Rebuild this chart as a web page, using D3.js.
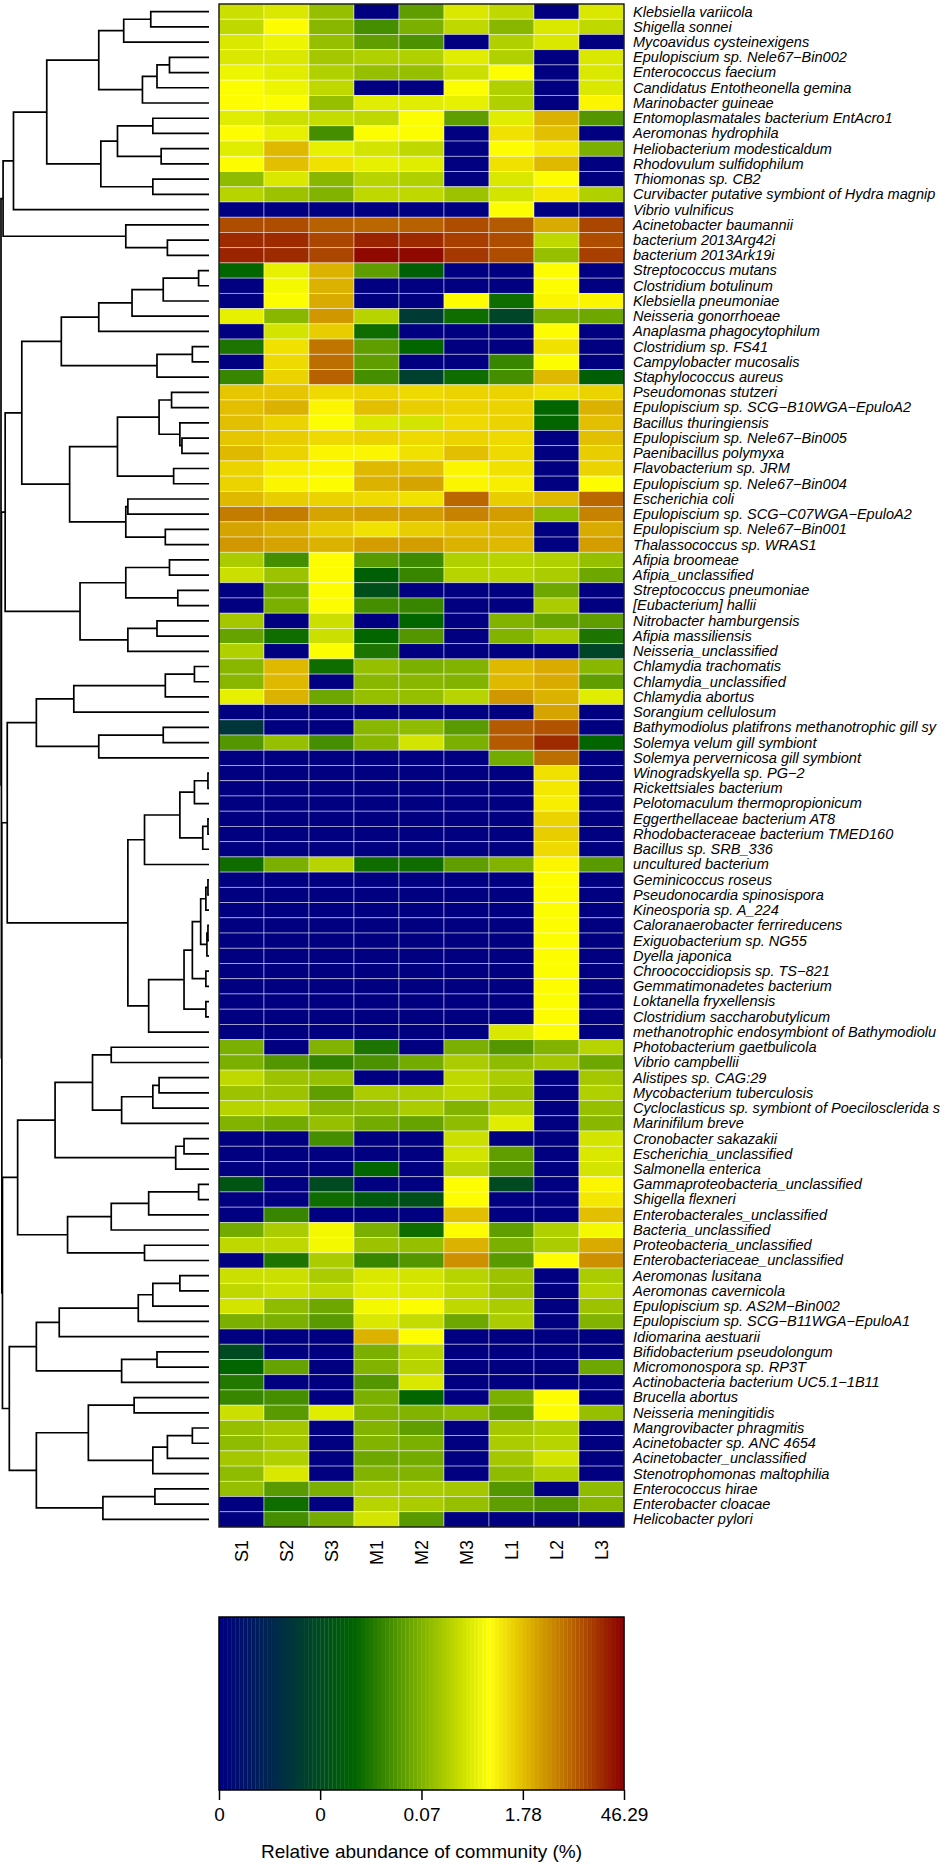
<!DOCTYPE html>
<html>
<head>
<meta charset="utf-8">
<script src="https://cdn.jsdelivr.net/npm/d3@7"></script>
<style>
  body { margin: 0; background: #fff; }
  text { font-family: "Liberation Sans", Arial, Helvetica, sans-serif; fill: #000; }
</style>
</head>
<body>
<svg id="chart"></svg>
<script>
var samples = ["S1", "S2", "S3", "M1", "M2", "M3", "L1", "L2", "L3"];

var taxa = [
  "Klebsiella variicola", "Shigella sonnei", "Mycoavidus cysteinexigens", "Epulopiscium sp. Nele67\u2212Bin002",
  "Enterococcus faecium", "Candidatus Entotheonella gemina", "Marinobacter guineae", "Entomoplasmatales bacterium EntAcro1",
  "Aeromonas hydrophila", "Heliobacterium modesticaldum", "Rhodovulum sulfidophilum", "Thiomonas sp. CB2",
  "Curvibacter putative symbiont of Hydra magnip", "Vibrio vulnificus", "Acinetobacter baumannii", "bacterium 2013Arg42i",
  "bacterium 2013Ark19i", "Streptococcus mutans", "Clostridium botulinum", "Klebsiella pneumoniae",
  "Neisseria gonorrhoeae", "Anaplasma phagocytophilum", "Clostridium sp. FS41", "Campylobacter mucosalis",
  "Staphylococcus aureus", "Pseudomonas stutzeri", "Epulopiscium sp. SCG\u2212B10WGA\u2212EpuloA2", "Bacillus thuringiensis",
  "Epulopiscium sp. Nele67\u2212Bin005", "Paenibacillus polymyxa", "Flavobacterium sp. JRM", "Epulopiscium sp. Nele67\u2212Bin004",
  "Escherichia coli", "Epulopiscium sp. SCG\u2212C07WGA\u2212EpuloA2", "Epulopiscium sp. Nele67\u2212Bin001", "Thalassococcus sp. WRAS1",
  "Afipia broomeae", "Afipia_unclassified", "Streptococcus pneumoniae", "[Eubacterium] hallii",
  "Nitrobacter hamburgensis", "Afipia massiliensis", "Neisseria_unclassified", "Chlamydia trachomatis",
  "Chlamydia_unclassified", "Chlamydia abortus", "Sorangium cellulosum", "Bathymodiolus platifrons methanotrophic gill sy",
  "Solemya velum gill symbiont", "Solemya pervernicosa gill symbiont", "Winogradskyella sp. PG\u22122", "Rickettsiales bacterium",
  "Pelotomaculum thermopropionicum", "Eggerthellaceae bacterium AT8", "Rhodobacteraceae bacterium TMED160", "Bacillus sp. SRB_336",
  "uncultured bacterium", "Geminicoccus roseus", "Pseudonocardia spinosispora", "Kineosporia sp. A_224",
  "Caloranaerobacter ferrireducens", "Exiguobacterium sp. NG55", "Dyella japonica", "Chroococcidiopsis sp. TS\u2212821",
  "Gemmatimonadetes bacterium", "Loktanella fryxellensis", "Clostridium saccharobutylicum", "methanotrophic endosymbiont of Bathymodiolu",
  "Photobacterium gaetbulicola", "Vibrio campbellii", "Alistipes sp. CAG:29", "Mycobacterium tuberculosis",
  "Cycloclasticus sp. symbiont of Poecilosclerida s", "Marinifilum breve", "Cronobacter sakazakii", "Escherichia_unclassified",
  "Salmonella enterica", "Gammaproteobacteria_unclassified", "Shigella flexneri", "Enterobacterales_unclassified",
  "Bacteria_unclassified", "Proteobacteria_unclassified", "Enterobacteriaceae_unclassified", "Aeromonas lusitana",
  "Aeromonas cavernicola", "Epulopiscium sp. AS2M\u2212Bin002", "Epulopiscium sp. SCG\u2212B11WGA\u2212EpuloA1", "Idiomarina aestuarii",
  "Bifidobacterium pseudolongum", "Micromonospora sp. RP3T", "Actinobacteria bacterium UC5.1\u22121B11", "Brucella abortus",
  "Neisseria meningitidis", "Mangrovibacter phragmitis", "Acinetobacter sp. ANC 4654", "Acinetobacter_unclassified",
  "Stenotrophomonas maltophilia", "Enterococcus hirae", "Enterobacter cloacae", "Helicobacter pylori"
];

// log10 of relative abundance (%), one row per taxon, columns follow samples; -4 = not detected
var logAbund = [
  [-0.6, -0.5, -1.0, -4, -1.4, -0.5, -0.7, -4, -0.5],
  [-0.7, -0.2, -1.1, -1.6, -1.2, -0.7, -1.1, -0.5, -0.7],
  [-0.5, -0.35, -1.0, -1.4, -1.55, -4, -0.8, -0.5, -4],
  [-0.5, -0.5, -0.9, -0.8, -0.8, -0.45, -0.8, -4, -0.5],
  [-0.35, -0.45, -0.8, -1.0, -1.0, -0.6, -0.25, -4, -0.5],
  [-0.25, -0.35, -0.7, -4, -4, -0.25, -0.8, -4, -0.5],
  [-0.2, -0.25, -1.0, -0.45, -0.45, -0.4, -0.8, -4, -0.15],
  [-0.45, -0.6, -0.65, -0.7, -0.25, -1.4, -0.45, 0.35, -1.5],
  [-0.2, -0.4, -1.6, -0.25, -0.25, -4, 0.0, 0.25, -4],
  [-0.45, 0.3, -0.4, -0.55, -0.7, -4, -0.2, -0.05, -1.2],
  [-0.2, 0.25, 0.0, -0.4, -0.45, -4, 0.0, 0.3, -4],
  [-1.05, -0.5, -1.1, -0.75, -0.8, -4, -0.5, -0.2, -4],
  [-0.75, -0.95, -1.15, -0.7, -0.7, -0.95, -0.55, -0.05, -0.8],
  [-4, -4, -4, -4, -4, -4, -0.25, -4, -4],
  [1.1, 1.1, 0.95, 0.9, 0.95, 1.1, 1.0, 0.4, 1.15],
  [1.35, 1.35, 1.15, 1.4, 1.35, 1.2, 1.1, -0.7, 1.1],
  [1.4, 1.35, 1.15, 1.6, 1.6, 1.25, 1.1, -1.0, 1.2],
  [-2.1, -0.4, 0.35, -1.4, -2.2, -4, -4, -0.2, -4],
  [-4, -0.3, 0.35, -4, -4, -4, -4, -0.2, -4],
  [-4, -0.25, 0.4, -4, -4, -0.2, -2.0, -0.15, -0.15],
  [-0.4, -1.1, 0.55, -0.75, -2.9, -2.0, -2.7, -1.2, -1.3],
  [-4, -0.55, 0.15, -2.0, -4, -4, -4, -0.2, -4],
  [-1.9, 0.0, 0.8, -1.4, -2.1, -4, -4, 0.0, -4],
  [-4, 0.05, 0.85, -1.4, -4, -4, -1.7, -0.25, -4],
  [-1.7, 0.1, 0.95, -1.6, -2.8, -2.0, -1.6, 0.3, -2.2],
  [0.2, 0.2, 0.05, 0.1, 0.05, 0.1, 0.1, 0.0, 0.1],
  [0.25, 0.35, -0.15, 0.25, 0.15, 0.1, 0.1, -2.1, 0.35],
  [0.25, 0.1, -0.25, -0.5, -0.55, 0.05, 0.1, -2.1, 0.25],
  [0.2, 0.15, 0.05, 0.1, 0.05, 0.1, 0.05, -4, 0.25],
  [0.3, 0.1, -0.15, -0.15, 0.0, 0.25, 0.05, -4, 0.15],
  [0.1, -0.1, -0.15, 0.3, 0.25, -0.15, 0.0, -4, 0.1],
  [0.1, -0.15, -0.2, 0.35, 0.45, -0.15, -0.1, -4, -0.2],
  [0.3, 0.15, 0.1, 0.05, 0.0, 0.9, 0.15, 0.3, 0.9],
  [0.75, 0.75, 0.45, 0.5, 0.5, 0.7, 0.5, -1.05, 0.7],
  [0.45, 0.35, 0.15, 0.0, 0.15, 0.25, 0.3, -4, 0.4],
  [0.55, 0.45, 0.35, 0.5, 0.5, 0.35, 0.3, -4, 0.5],
  [-0.85, -1.6, -0.2, -1.45, -1.65, -0.8, -0.75, -0.8, -1.0],
  [-0.6, -0.95, -0.2, -2.2, -1.7, -0.75, -0.75, -0.85, -1.3],
  [-4, -1.3, -0.2, -2.5, -4, -4, -4, -1.3, -4],
  [-4, -1.2, -0.2, -1.6, -1.7, -4, -4, -0.85, -4],
  [-0.9, -4, -0.6, -4, -2.1, -4, -1.15, -1.35, -1.4],
  [-1.35, -2.0, -0.6, -2.1, -1.5, -4, -1.15, -0.85, -1.9],
  [-0.8, -4, -0.25, -1.9, -4, -4, -4, -4, -2.7],
  [-1.1, 0.3, -2.0, -1.0, -1.2, -1.15, 0.3, 0.4, -1.1],
  [-1.1, 0.3, -4, -1.1, -1.1, -1.15, 0.3, 0.4, -1.4],
  [-0.4, 0.35, -1.3, -1.0, -1.0, -0.75, 0.55, 0.35, -0.45],
  [-4, -4, -4, -4, -4, -4, -4, 0.45, -4],
  [-3.0, -4, -4, -1.1, -1.05, -1.45, 1.0, 1.05, -4],
  [-1.5, -1.0, -1.6, -1.1, -0.55, -1.2, 1.0, 1.35, -2.1],
  [-4, -4, -4, -4, -4, -4, -1.25, 0.85, -4],
  [-4, -4, -4, -4, -4, -4, -4, 0.0, -4],
  [-4, -4, -4, -4, -4, -4, -4, -0.05, -4],
  [-4, -4, -4, -4, -4, -4, -4, -0.1, -4],
  [-4, -4, -4, -4, -4, -4, -4, 0.1, -4],
  [-4, -4, -4, -4, -4, -4, -4, 0.15, -4],
  [-4, -4, -4, -4, -4, -4, -4, 0.05, -4],
  [-2.0, -1.2, -0.75, -2.0, -2.0, -1.4, -1.15, -0.15, -1.45],
  [-4, -4, -4, -4, -4, -4, -4, -0.2, -4],
  [-4, -4, -4, -4, -4, -4, -4, -0.2, -4],
  [-4, -4, -4, -4, -4, -4, -4, -0.25, -4],
  [-4, -4, -4, -4, -4, -4, -4, -0.2, -4],
  [-4, -4, -4, -4, -4, -4, -4, -0.25, -4],
  [-4, -4, -4, -4, -4, -4, -4, -0.2, -4],
  [-4, -4, -4, -4, -4, -4, -4, -0.25, -4],
  [-4, -4, -4, -4, -4, -4, -4, -0.2, -4],
  [-4, -4, -4, -4, -4, -4, -4, -0.25, -4],
  [-4, -4, -4, -4, -4, -4, -4, -0.2, -4],
  [-4, -4, -4, -4, -4, -4, -0.5, -0.2, -4],
  [-1.2, -4, -1.15, -1.9, -4, -1.2, -1.5, -1.15, -0.75],
  [-1.2, -1.5, -1.75, -1.55, -1.25, -0.85, -1.05, -0.9, -1.3],
  [-0.7, -0.95, -1.0, -4, -4, -0.7, -0.85, -4, -0.9],
  [-0.95, -0.95, -1.4, -0.85, -0.85, -0.7, -0.95, -4, -0.8],
  [-0.75, -0.75, -1.1, -1.05, -0.85, -1.15, -0.8, -4, -1.0],
  [-1.15, -1.25, -1.0, -1.25, -1.35, -1.05, -0.45, -4, -1.1],
  [-4, -4, -1.6, -4, -4, -0.6, -4, -4, -0.55],
  [-4, -4, -4, -4, -4, -0.55, -1.4, -4, -0.5],
  [-4, -4, -4, -2.1, -4, -0.75, -1.5, -4, -0.55],
  [-2.4, -4, -2.6, -4, -4, -0.2, -2.6, -4, -0.15],
  [-4, -4, -2.0, -2.3, -2.5, -0.2, -4, -4, -0.05],
  [-4, -1.7, -4, -4, -4, 0.25, -4, -4, 0.25],
  [-1.25, -0.85, -0.3, -1.2, -2.0, -0.2, -1.4, -0.8, -0.3],
  [-0.7, -0.7, -0.3, -0.95, -1.0, 0.35, -1.2, -0.85, 0.4],
  [-4, -1.9, -0.85, -1.7, -1.5, 0.6, -1.45, -0.2, 0.6],
  [-0.6, -0.6, -0.85, -0.5, -0.55, -0.75, -0.95, -4, -0.85],
  [-0.7, -0.6, -0.7, -0.45, -0.5, -0.7, -0.95, -4, -0.75],
  [-0.55, -1.05, -1.3, -0.3, -0.25, -0.7, -0.85, -4, -0.95],
  [-1.2, -1.2, -1.45, -0.5, -0.65, -1.3, -0.85, -4, -1.15],
  [-4, -4, -4, 0.35, -0.2, -4, -4, -4, -4],
  [-2.6, -4, -4, -1.2, -0.75, -4, -4, -4, -4],
  [-2.1, -1.35, -4, -1.15, -0.75, -4, -4, -4, -1.3],
  [-1.85, -4, -4, -1.5, -0.5, -4, -4, -4, -4],
  [-1.7, -1.6, -4, -1.2, -2.1, -4, -1.2, -0.2, -4],
  [-0.6, -1.45, -0.45, -1.15, -1.15, -1.05, -1.35, -0.2, -1.0],
  [-1.0, -0.9, -4, -1.15, -1.4, -4, -0.9, -0.8, -4],
  [-1.05, -0.9, -4, -1.15, -1.2, -4, -0.85, -0.75, -4],
  [-0.9, -0.8, -4, -1.3, -1.25, -4, -0.9, -0.55, -4],
  [-1.05, -0.5, -4, -1.15, -1.15, -4, -1.05, -0.8, -4],
  [-1.0, -1.45, -1.2, -0.85, -0.85, -0.9, -1.5, -4, -1.05],
  [-4, -2.0, -4, -0.75, -0.85, -1.0, -1.4, -1.5, -1.1],
  [-4, -1.6, -1.25, -0.55, -1.45, -4, -4, -4, -4]
];

// colour key
var legendTicks = [0.0001, 0.0026, 0.068, 1.78, 46.29];
var legendColors = ["#000080", "#006400", "#ffff00", "#8b0000"];
var legendTitle = "Relative abundance of community (%)";

// row dendrogram: [left, right, height], leaves are row numbers (1-based)
var clusterA = [
  [[[[[1, 2, 0.28], 3, 0.41], [[[4, 5, 0.19], 6, 0.25], 7, 0.32], 0.53],
    [[[8, 9, 0.27], [10, 11, 0.23], 0.44], [12, 13, 0.27], 0.52], 0.78], 14, 0.94],
  [15, [16, 17, 0.20], 0.40], 0.99];
var clusterB = [
  [[[[[[18, 19, 0.05], 20, 0.22], 21, 0.37], 22, 0.53], [[23, 24, 0.08], 25, 0.25], 0.71],
    [[[[26, 27, 0.18], [28, [29, 30, 0.13], 0.14], 0.24], [31, 32, 0.17], 0.44],
     [[33, 34, 0.39], [35, 36, 0.21], 0.40], 0.67], 0.90],
  [[[37, 38, 0.19], [39, 40, 0.15], 0.40], [[41, 42, 0.25], 43, 0.39], 0.62], 0.98];
var clusterC = [
  [[[[44, 45, 0.07], 46, 0.21], 47, 0.65], [[48, 49, 0.22], 50, 0.53], 0.83],
  [[[[[51, 52, 0.005], 53, 0.07], [[54, 55, 0.005], 56, 0.03], 0.14], 57, 0.31],
   [[[[[[58, 59, 0.005], 60, 0.015], [[61, 62, 0.005], 63, 0.01], 0.04], [64, 65, 0.015], 0.08],
      [66, 67, 0.015], 0.12], 68, 0.29], 0.39], 0.97];
var clusterD = [
  [[[69, 70, 0.47], [[[71, 72, 0.24], 73, 0.27], 74, 0.42], 0.56], [[75, 76, 0.12], 77, 0.16], 0.74],
  [[[[78, 79, 0.05], 80, 0.29], 81, 0.47], [82, 83, 0.31], 0.68], 0.92];
var clusterE = [
  [[[[[84, 85, 0.14], 86, 0.27], 87, 0.34], 88, 0.72], [[89, 90, 0.25], 91, 0.42], 0.83],
  [[[92, 93, 0.36], [[[94, 95, 0.08], 96, 0.20], 97, 0.27], 0.58], [[98, 99, 0.26], 100, 0.51], 0.83], 0.96];
var rowTree = [clusterA, [clusterB, [clusterC, [clusterD, clusterE, 0.993], 0.996], 0.998], 1];


var svgWidth = 950, svgHeight = 1865;
var heat = { left: 219, right: 624, top: 4, bottom: 1527 };
var tree = { left: 1, right: 209 };
var key = { top: 1617, bottom: 1790 };

var svg = d3.select('#chart')
  .attr('width', svgWidth)
  .attr('height', svgHeight);

var x = d3.scaleBand().domain(samples).range([heat.left, heat.right]);
var y = d3.scaleBand().domain(taxa).range([heat.top, heat.bottom]);

var logMin = Math.log10(d3.min(legendTicks));
var logMax = Math.log10(d3.max(legendTicks));
var color = d3.scaleLinear()
  .domain(legendColors.map(function(c, i) { return logMin + i / (legendColors.length - 1) * (logMax - logMin); }))
  .range(legendColors)
  .clamp(true);

// heatmap cells
var cells = [];
taxa.forEach(function(t, i) {
  samples.forEach(function(s, j) {
    cells.push({ taxon: t, sample: s, value: logAbund[i][j] });
  });
});

svg.append('g')
  .selectAll('rect')
  .data(cells)
  .join('rect')
  .attr('x', function(d) { return x(d.sample); })
  .attr('y', function(d) { return y(d.taxon); })
  .attr('width', x.bandwidth())
  .attr('height', y.bandwidth())
  .attr('fill', function(d) { return color(d.value); })
  .attr('stroke', '#ffffff')
  .attr('stroke-opacity', 0.55)
  .attr('stroke-width', 0.8);

svg.append('rect')
  .attr('x', heat.left)
  .attr('y', heat.top)
  .attr('width', heat.right - heat.left)
  .attr('height', heat.bottom - heat.top)
  .attr('fill', 'none')
  .attr('stroke', '#000')
  .attr('stroke-width', 1.3);

// dendrogram
var hx = d3.scaleLinear().domain([0, 1]).range([tree.right, tree.left]);
var root = d3.hierarchy(rowTree, function(d) { return Array.isArray(d) ? [d[0], d[1]] : null; });
root.eachAfter(function(n) {
  if (n.children) {
    n.h = n.data[2];
    n.yPos = (n.children[0].yPos + n.children[1].yPos) / 2;
  } else {
    n.h = 0;
    n.yPos = y(taxa[n.data - 1]) + y.bandwidth() / 2;
  }
});

var p = d3.path();
root.each(function(n) {
  if (!n.children) return;
  var a = n.children[0], b = n.children[1];
  p.moveTo(hx(a.h), a.yPos);
  p.lineTo(hx(n.h), a.yPos);
  p.lineTo(hx(n.h), b.yPos);
  p.lineTo(hx(b.h), b.yPos);
});
svg.append('path')
  .attr('d', p.toString())
  .attr('fill', 'none')
  .attr('stroke', '#000')
  .attr('stroke-width', 1.7);

// row labels
svg.append('g')
  .selectAll('text')
  .data(taxa)
  .join('text')
  .attr('transform', function(d) { return 'translate(633,' + (y(d) + y.bandwidth() / 2) + ') scale(1.04,1)'; })
  .attr('dy', '0.35em')
  .style('font-style', 'italic')
  .style('font-size', '14px')
  .text(function(d) { return d; });

// column labels
svg.append('g')
  .selectAll('text')
  .data(samples)
  .join('text')
  .attr('transform', function(d) { return 'translate(' + (x(d) + x.bandwidth() / 2) + ',1540) rotate(-90)'; })
  .attr('dy', '0.35em')
  .attr('text-anchor', 'end')
  .style('font-size', '18px')
  .text(function(d) { return d; });

// colour key
var kx = d3.scaleLinear().domain([logMin, logMax]).range([heat.left, heat.right]);
var steps = d3.range(100).map(function(i) { return logMin + (i + 0.5) / 100 * (logMax - logMin); });
var stepW = (heat.right - heat.left) / 100;
svg.append('g')
  .selectAll('rect')
  .data(steps)
  .join('rect')
  .attr('x', function(d) { return kx(d) - stepW / 2; })
  .attr('y', key.top)
  .attr('width', stepW + 0.3)
  .attr('height', key.bottom - key.top)
  .attr('fill', function(d) { return color(d); });

svg.append('rect')
  .attr('x', heat.left)
  .attr('y', key.top)
  .attr('width', heat.right - heat.left)
  .attr('height', key.bottom - key.top)
  .attr('fill', 'none')
  .attr('stroke', '#000')
  .attr('stroke-width', 1.5);

var keyAxis = svg.append('g')
  .attr('transform', 'translate(0,' + key.bottom + ')')
  .call(d3.axisBottom(kx)
    .tickValues(legendTicks.map(function(v) { return Math.log10(v); }))
    .tickSize(10)
    .tickPadding(8)
    .tickFormat(function(v) { return String(+Math.pow(10, v).toFixed(2)); }));
keyAxis.select('.domain').remove();
keyAxis.selectAll('line').attr('stroke-width', 1.5);
keyAxis.selectAll('text')
  .style('font-size', '19px')
  .style('font-family', '"Liberation Sans", Arial, sans-serif');

svg.append('text')
  .attr('x', (heat.left + heat.right) / 2)
  .attr('y', 1858)
  .attr('text-anchor', 'middle')
  .style('font-size', '19px')
  .text(legendTitle);
</script>
</body>
</html>
